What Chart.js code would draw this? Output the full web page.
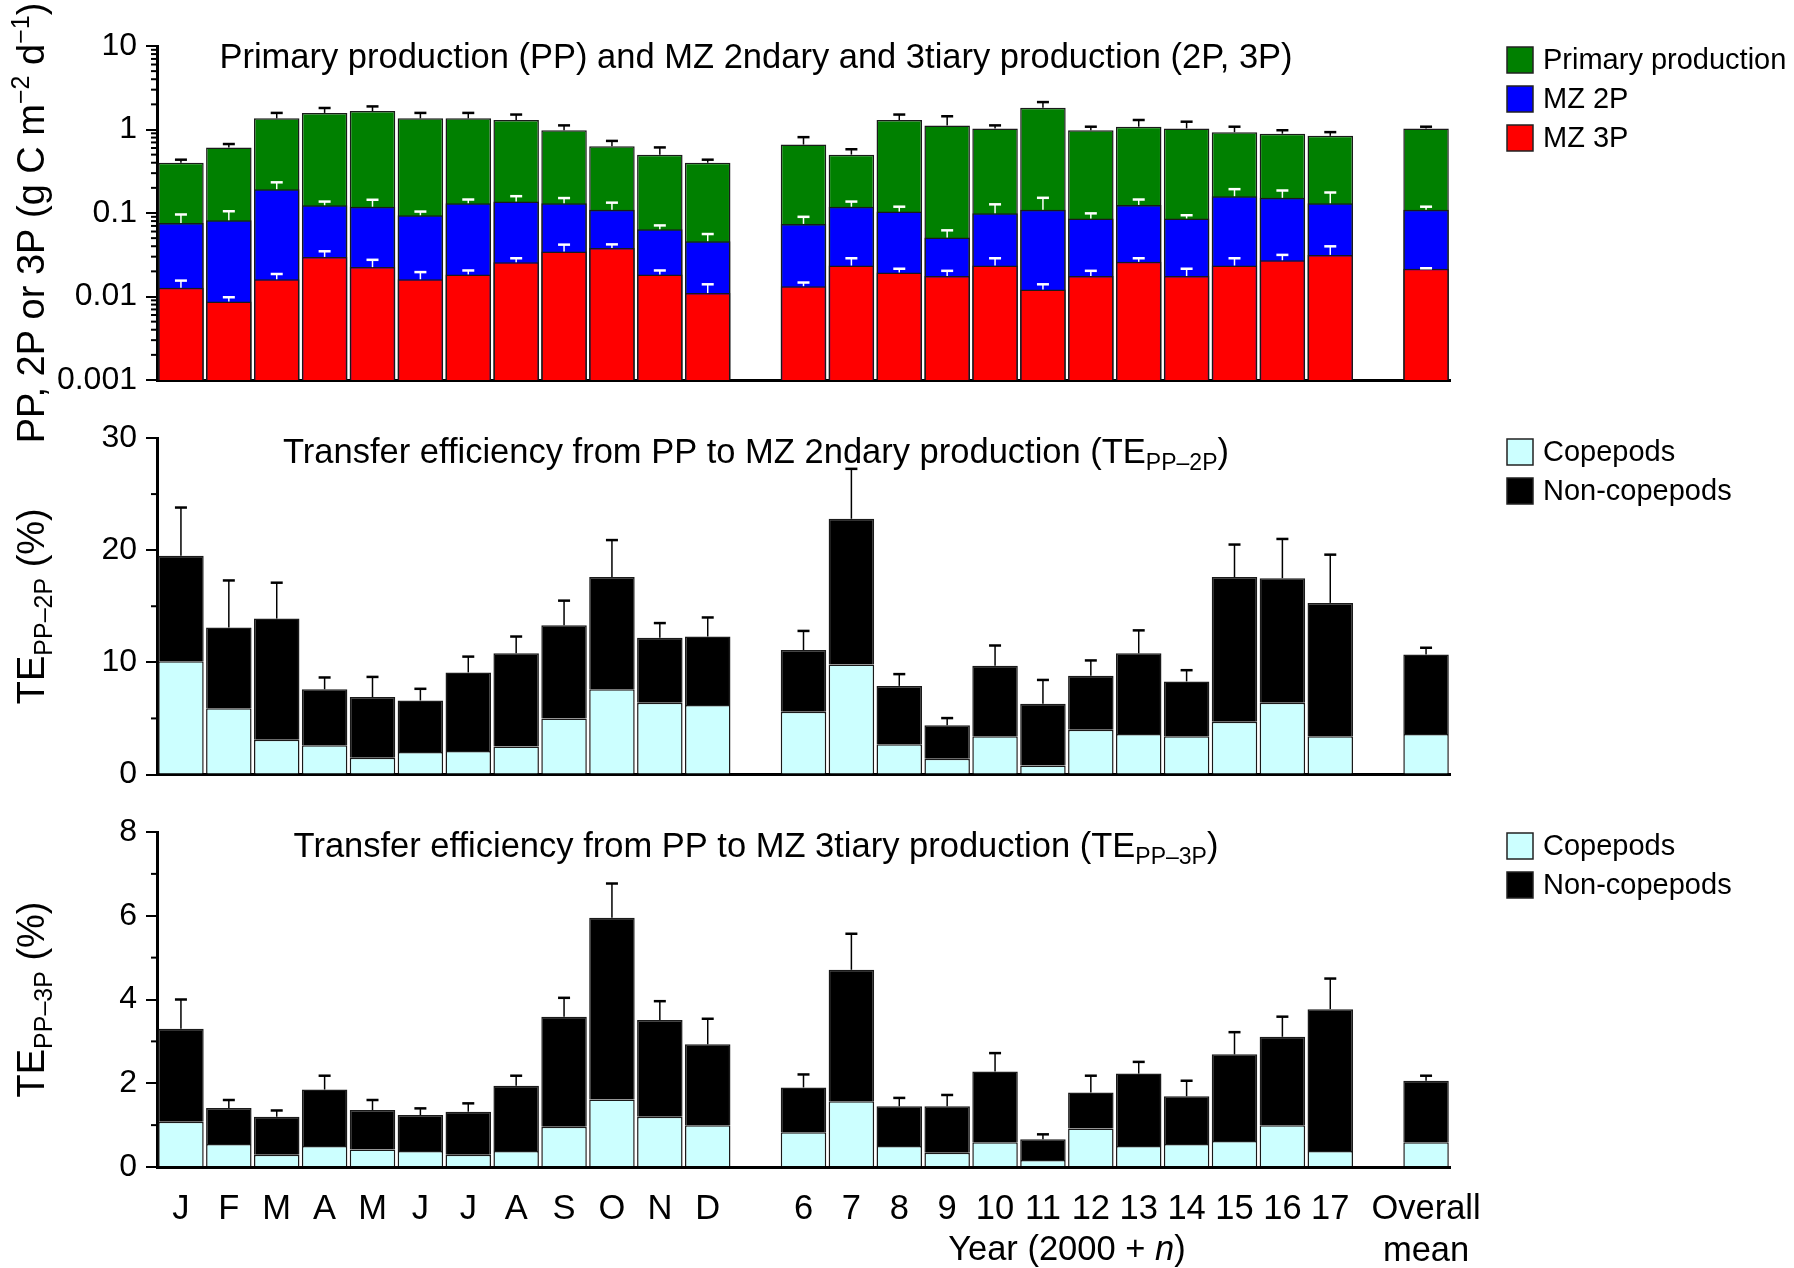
<!DOCTYPE html>
<html>
<head>
<meta charset="utf-8">
<title>Production and transfer efficiency</title>
<script src="https://cdn.jsdelivr.net/npm/chart.js@4.4.1/dist/chart.umd.min.js"></script>
<style>
  body { margin: 0; background: #fff; }
  .panel { position: absolute; left: 0; width: 1794px; }
</style>
</head>
<body>
<div class="panel" style="top:0px;height:450px"><canvas id="chartProd" width="1794" height="450"></canvas></div>
<div class="panel" style="top:400px;height:420px"><canvas id="chartTe2" width="1794" height="420"></canvas></div>
<div class="panel" style="top:800px;height:468px"><canvas id="chartTe3" width="1794" height="468"></canvas></div>
<script>
const FONT = '"Liberation Sans", Arial, sans-serif';

// Categories: months, gap, years (2000 + n), gap, overall mean
const categories = ['J', 'F', 'M', 'A', 'M', 'J', 'J', 'A', 'S', 'O', 'N', 'D', '',
  '6', '7', '8', '9', '10', '11', '12', '13', '14', '15', '16', '17', '', ['Overall', 'mean']];

// Top panel: PP, MZ 2P and MZ 3P (g C m-2 d-1), with +SD
const ppValues = [0.40, 0.61, 1.36, 1.58, 1.66, 1.36, 1.36, 1.30, 0.98, 0.63, 0.50, 0.40, null,
  0.66, 0.50, 1.30, 1.12, 1.03, 1.82, 0.98, 1.08, 1.03, 0.93, 0.89, 0.84, null, 1.03];
const ppSd = [0.035, 0.06, 0.22, 0.23, 0.23, 0.22, 0.22, 0.21, 0.14, 0.10, 0.11, 0.035, null,
  0.15, 0.08, 0.21, 0.32, 0.09, 0.31, 0.10, 0.22, 0.21, 0.15, 0.09, 0.09, null, 0.05];
const mz2pValues = [0.076, 0.082, 0.193, 0.124, 0.119, 0.094, 0.131, 0.137, 0.131, 0.109, 0.064, 0.046, null,
  0.074, 0.119, 0.104, 0.051, 0.099, 0.109, 0.086, 0.125, 0.086, 0.159, 0.152, 0.131, null, 0.109];
const mz2pSd = [0.020, 0.023, 0.040, 0.013, 0.025, 0.010, 0.014, 0.022, 0.020, 0.024, 0.007, 0.010, null,
  0.016, 0.018, 0.015, 0.011, 0.028, 0.043, 0.013, 0.020, 0.008, 0.034, 0.034, 0.045, null, 0.010];
const mz3pValues = [0.0127, 0.0087, 0.0161, 0.0298, 0.0225, 0.0161, 0.0184, 0.0258, 0.0345, 0.0381, 0.0184, 0.0110, null,
  0.0133, 0.0235, 0.0194, 0.0176, 0.0235, 0.0121, 0.0176, 0.0260, 0.0176, 0.0235, 0.0272, 0.0315, null, 0.0215];
const mz3pSd = [0.0028, 0.0011, 0.0025, 0.0050, 0.0050, 0.0035, 0.0021, 0.0029, 0.0073, 0.0040, 0.0021, 0.0030, null,
  0.0014, 0.0052, 0.0021, 0.0027, 0.0052, 0.0019, 0.0027, 0.0027, 0.0039, 0.0052, 0.0043, 0.0084, null, 0.0003];

// Middle panel: TE PP-2P (%)
const te2pCopepods = [10.1, 5.9, 3.1, 2.6, 1.5, 2.0, 2.1, 2.5, 5.0, 7.6, 6.4, 6.2, null,
  5.6, 9.8, 2.7, 1.4, 3.4, 0.8, 4.0, 3.6, 3.4, 4.7, 6.4, 3.4, null, 3.6];
const te2pNonCopepods = [9.4, 7.2, 10.8, 5.0, 5.4, 4.6, 7.0, 8.3, 8.3, 10.0, 5.8, 6.1, null,
  5.5, 13.0, 5.2, 3.0, 6.3, 5.5, 4.8, 7.2, 4.9, 12.9, 11.1, 11.9, null, 7.1];
const te2pSd = [4.3, 4.2, 3.2, 1.05, 1.8, 1.04, 1.41, 1.5, 2.2, 3.3, 1.3, 1.7, null,
  1.7, 4.45, 1.05, 0.63, 1.8, 2.13, 1.37, 2.05, 1.0, 2.9, 3.5, 4.3, null, 0.6];

// Bottom panel: TE PP-3P (%)
const te3pCopepods = [1.08, 0.55, 0.29, 0.50, 0.42, 0.38, 0.29, 0.38, 0.96, 1.61, 1.20, 1.00, null,
  0.83, 1.57, 0.50, 0.34, 0.59, 0.17, 0.92, 0.50, 0.55, 0.62, 1.00, 0.38, null, 0.59];
const te3pNonCopepods = [2.22, 0.86, 0.91, 1.35, 0.94, 0.86, 1.03, 1.56, 2.63, 4.34, 2.31, 1.93, null,
  1.07, 3.14, 0.95, 1.11, 1.69, 0.49, 0.86, 1.73, 1.14, 2.07, 2.11, 3.39, null, 1.47];
const te3pSd = [0.70, 0.19, 0.15, 0.33, 0.24, 0.16, 0.20, 0.24, 0.45, 0.82, 0.45, 0.61, null,
  0.31, 0.86, 0.20, 0.27, 0.44, 0.12, 0.40, 0.28, 0.37, 0.53, 0.48, 0.73, null, 0.12];

// Axis ticks
const logMajorTicks = [0.001, 0.01, 0.1, 1, 10];
const te2pTicks = [0, 10, 20, 30];
const te3pTicks = [0, 2, 4, 6, 8];

const GREEN = '#008000', BLUE = '#0000ff', RED = '#ff0000', CYAN = '#ccffff', BLACK = '#000000';
const TITLE_SIZE = 34.5, SUB_SIZE = 23, YTITLE_SIZE = 38, YSUB_SIZE = 25;

function sumArrays(a, b) {
  return a.map((v, i) => (v == null ? null : v + b[i]));
}

// draw a run of text pieces (with sub/superscripts) starting at x, baseline y
function richWidth(ctx, parts) {
  let w = 0;
  parts.forEach(p => {
    ctx.font = (p.italic ? 'italic ' : '') + p.size + 'px ' + FONT;
    w += ctx.measureText(p.text).width;
  });
  return w;
}
function drawRich(ctx, parts, x, y) {
  parts.forEach(p => {
    ctx.font = (p.italic ? 'italic ' : '') + p.size + 'px ' + FONT;
    ctx.fillText(p.text, x, y + (p.dy || 0));
    x += ctx.measureText(p.text).width;
  });
}

// per-chart plugin: error bars, minor ticks, titles, legend
function makeDecor(cfg) {
  return {
    id: 'decor',
    afterDatasetsDraw(chart) {
      const ctx = chart.ctx;
      const yScale = chart.scales.y;
      ctx.save();
      cfg.errorBars.forEach(eb => {
        const meta = chart.getDatasetMeta(eb.dataset);
        meta.data.forEach((bar, j) => {
          const mean = eb.totals[j];
          const sd = eb.sd[j];
          if (mean == null || sd == null) return;
          const y0 = yScale.getPixelForValue(mean);
          const y1 = yScale.getPixelForValue(mean + sd);
          ctx.strokeStyle = eb.color;
          ctx.lineWidth = 1.5;
          ctx.beginPath();
          ctx.moveTo(bar.x, y0);
          ctx.lineTo(bar.x, y1);
          ctx.stroke();
          ctx.lineWidth = 2.5;
          ctx.beginPath();
          ctx.moveTo(bar.x - 6, y1);
          ctx.lineTo(bar.x + 6, y1);
          ctx.stroke();
        });
      });
      ctx.restore();
    },
    afterDraw(chart) {
      const ctx = chart.ctx;
      const area = chart.chartArea;
      const yScale = chart.scales.y;
      ctx.save();
      ctx.fillStyle = BLACK;
      ctx.strokeStyle = BLACK;

      // minor ticks on the y axis
      ctx.lineWidth = 2;
      cfg.minorTicks.forEach(v => {
        const y = yScale.getPixelForValue(v);
        ctx.beginPath();
        ctx.moveTo(area.left - 6, y);
        ctx.lineTo(area.left, y);
        ctx.stroke();
      });

      // panel title, centred
      ctx.textBaseline = 'alphabetic';
      const tw = richWidth(ctx, cfg.title);
      drawRich(ctx, cfg.title, 756 - tw / 2, area.top + cfg.titleDy);

      // rotated y axis title
      const yw = richWidth(ctx, cfg.yTitle);
      ctx.save();
      ctx.translate(44, (area.top + area.bottom) / 2 + cfg.yTitleShift);
      ctx.rotate(-Math.PI / 2);
      drawRich(ctx, cfg.yTitle, -yw / 2, 0);
      ctx.restore();

      // legend
      ctx.font = '29px ' + FONT;
      ctx.textBaseline = 'middle';
      cfg.legend.forEach((item, i) => {
        const top = area.top + 1 + i * 39;
        ctx.fillStyle = item.color;
        ctx.fillRect(1507, top, 26, 26);
        ctx.lineWidth = 1.5;
        ctx.strokeStyle = '#222';
        ctx.strokeRect(1507, top, 26, 26);
        ctx.fillStyle = BLACK;
        ctx.fillText(item.label, 1543, top + 14);
      });

      // year axis caption under the bottom panel
      if (cfg.yearCaption) {
        const xs = chart.scales.x;
        const cx = (xs.getPixelForValue(13) + xs.getPixelForValue(24)) / 2;
        ctx.textBaseline = 'alphabetic';
        const cw = richWidth(ctx, cfg.yearCaption);
        drawRich(ctx, cfg.yearCaption, cx - cw / 2, area.bottom + 93);
      }
      ctx.restore();
    }
  };
}

function xAxis(showLabels, height) {
  return {
    type: 'category',
    offset: true,
    grid: { display: false },
    border: { display: true, color: BLACK, width: 3 },
    ticks: {
      display: showLabels,
      autoSkip: false,
      maxRotation: 0,
      minRotation: 0,
      padding: 13,
      color: BLACK,
      font: { family: FONT, size: 34.5, lineHeight: 1.22 }
    },
    afterFit: s => { s.height = height; }
  };
}

function yTickStyle() {
  return {
    color: BLACK,
    padding: 9,
    font: { family: FONT, size: 32 }
  };
}

function yGrid() {
  return { display: true, drawOnChartArea: false, drawTicks: true, tickLength: 11, color: BLACK, lineWidth: 2 };
}

function baseOptions(padTop, xOpts, yOpts) {
  return {
    responsive: false,
    animation: false,
    devicePixelRatio: 1,
    layout: { padding: { top: padTop, right: 344, left: 0, bottom: 0 } },
    plugins: { legend: { display: false }, tooltip: { enabled: false } },
    scales: { x: xOpts, y: yOpts }
  };
}

const barStyle = { barPercentage: 0.95, categoryPercentage: 1.0, borderWidth: 1.5, borderColor: '#1a1a1a' };

// ---------- top panel: production on a log axis ----------
const logMinor = [];
logMajorTicks.slice(0, -1).forEach(d => {
  for (let k = 2; k <= 9; k++) logMinor.push(d * k);
});

new Chart(document.getElementById('chartProd'), {
  type: 'bar',
  data: {
    labels: categories,
    datasets: [
      { label: 'Primary production', data: ppValues, backgroundColor: GREEN, grouped: false, order: 2, ...barStyle },
      { label: 'MZ 2P', data: mz2pValues, backgroundColor: BLUE, grouped: false, order: 1, ...barStyle },
      { label: 'MZ 3P', data: mz3pValues, backgroundColor: RED, grouped: false, order: 0, ...barStyle }
    ]
  },
  options: baseOptions(46, xAxis(false, 70), {
    type: 'logarithmic',
    min: 0.001,
    max: 10,
    grid: yGrid(),
    border: { display: true, color: BLACK, width: 3 },
    ticks: { ...yTickStyle(), callback: v => String(v) },
    afterBuildTicks: s => { s.ticks = logMajorTicks.map(v => ({ value: v })); },
    afterFit: s => { s.width = 157; }
  }),
  plugins: [makeDecor({
    errorBars: [
      { dataset: 0, totals: ppValues, sd: ppSd, color: BLACK },
      { dataset: 1, totals: mz2pValues, sd: mz2pSd, color: '#ffffff' },
      { dataset: 2, totals: mz3pValues, sd: mz3pSd, color: '#ffffff' }
    ],
    minorTicks: logMinor,
    title: [{ text: 'Primary production (PP) and MZ 2ndary and 3tiary production (2P, 3P)', size: TITLE_SIZE }],
    titleDy: 22,
    yTitle: [
      { text: 'PP, 2P or 3P (g C m', size: YTITLE_SIZE },
      { text: '\u22122', size: YSUB_SIZE, dy: -15 },
      { text: ' d', size: YTITLE_SIZE },
      { text: '\u22121', size: YSUB_SIZE, dy: -15 },
      { text: ')', size: YTITLE_SIZE }
    ],
    yTitleShift: 10,
    legend: [
      { label: 'Primary production', color: GREEN },
      { label: 'MZ 2P', color: BLUE },
      { label: 'MZ 3P', color: RED }
    ]
  })]
});

// ---------- stacked transfer efficiency panels ----------
function teChart(id, cope, nonCope, sd, ticks, padTop, xOpts, tag, extra) {
  const totals = sumArrays(cope, nonCope);
  const minor = ticks.slice(0, -1).map((t, i) => (t + ticks[i + 1]) / 2);
  new Chart(document.getElementById(id), {
    type: 'bar',
    data: {
      labels: categories,
      datasets: [
        { label: 'Copepods', data: cope, backgroundColor: CYAN, stack: 'te', ...barStyle },
        { label: 'Non-copepods', data: nonCope, backgroundColor: BLACK, stack: 'te', ...barStyle }
      ]
    },
    options: baseOptions(padTop, xOpts, {
      type: 'linear',
      stacked: true,
      min: ticks[0],
      max: ticks[ticks.length - 1],
      grid: yGrid(),
      border: { display: true, color: BLACK, width: 3 },
      ticks: { ...yTickStyle(), stepSize: ticks[1] - ticks[0] },
      afterFit: s => { s.width = 157; }
    }),
    plugins: [makeDecor(Object.assign({
      errorBars: [{ dataset: 1, totals: totals, sd: sd, color: BLACK }],
      minorTicks: minor,
      title: [
        { text: 'Transfer efficiency from PP to MZ ' + (tag === '2P' ? '2ndary' : '3tiary') + ' production (TE', size: TITLE_SIZE },
        { text: 'PP\u2013' + tag, size: SUB_SIZE, dy: 7 },
        { text: ')', size: TITLE_SIZE }
      ],
      titleDy: 25,
      yTitle: [
        { text: 'TE', size: YTITLE_SIZE },
        { text: 'PP\u2013' + tag, size: YSUB_SIZE, dy: 8 },
        { text: ' (%)', size: YTITLE_SIZE }
      ],
      yTitleShift: 0,
      legend: [
        { label: 'Copepods', color: CYAN },
        { label: 'Non-copepods', color: BLACK }
      ]
    }, extra))]
  });
}

const te2X = xAxis(false, 45.5);
te2X.stacked = true;
teChart('chartTe2', te2pCopepods, te2pNonCopepods, te2pSd, te2pTicks, 38, te2X, '2P', {});

const te3X = xAxis(true, 101);
te3X.stacked = true;
teChart('chartTe3', te3pCopepods, te3pNonCopepods, te3pSd, te3pTicks, 32, te3X, '3P', {
  yearCaption: [
    { text: 'Year (2000 + ', size: TITLE_SIZE },
    { text: 'n', size: TITLE_SIZE, italic: true },
    { text: ')', size: TITLE_SIZE }
  ]
});
</script>
</body>
</html>
